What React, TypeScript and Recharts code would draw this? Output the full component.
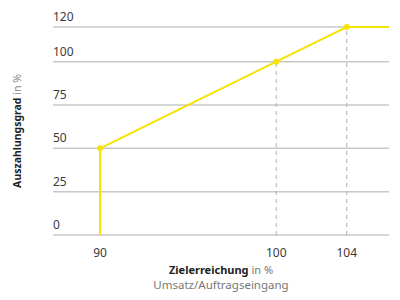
import { LineChart, Line, XAxis, YAxis, CartesianGrid, ReferenceLine, Label } from 'recharts';

// Zielerreichung (%) -> Auszahlungsgrad (%)
const zielerreichung = [90, 90, 100, 104, 106.4];
const auszahlung = [0, 50, 100, 120, 120];
const marker = [false, true, true, true, false];

const xTicks = [90, 100, 104];
const yTicks = [0, 25, 50, 75, 100, 120];
const dashedAt = [
  { x: 100, y: 100 },
  { x: 104, y: 120 },
];

const data = zielerreichung.map((x, i) => ({ x, y: auszahlung[i], marker: marker[i] }));

const FONT = '"Noto Sans", sans-serif';
const YELLOW = '#f6e300';

function YTick(props: any) {
  const { x, y, payload } = props;
  return (
    <text x={x} y={y - 6} textAnchor="start" fontSize={12} fill="#3a3a3a" fontFamily={FONT}>
      {payload.value}
    </text>
  );
}

function Dot(props: any) {
  const { cx, cy, payload, index } = props;
  if (!payload.marker) return <g key={index} />;
  return <circle key={index} cx={cx} cy={cy} r={3} fill={YELLOW} />;
}

function XTitle(props: any) {
  const { viewBox } = props;
  const cx = viewBox.x + viewBox.width / 2;
  return (
    <g fontFamily={FONT} fontSize={11} textAnchor="middle">
      <text x={cx} y={viewBox.y + 39}>
        <tspan fontWeight="bold" fill="#222">Zielerreichung</tspan>
        <tspan fill="#777"> in %</tspan>
      </text>
      <text x={cx} y={viewBox.y + 54} fill="#777" fontSize={11.5}>
        Umsatz/Auftragseingang
      </text>
    </g>
  );
}

function YTitle(props: any) {
  const { viewBox } = props;
  const cx = viewBox.x - 36;
  const cy = viewBox.y + viewBox.height / 2;
  return (
    <text
      x={cx}
      y={cy}
      transform={`rotate(-90 ${cx} ${cy})`}
      textAnchor="middle"
      dominantBaseline="central"
      fontFamily={FONT}
      fontSize={10.5}
    >
      <tspan fontWeight="bold" fill="#222">Auszahlungsgrad</tspan>
      <tspan fill="#888"> in %</tspan>
    </text>
  );
}

export default function App() {
  return (
    <div style={{ position: 'absolute', left: 0, top: 0, width: 400, height: 300, background: '#fff' }}>
      <LineChart width={400} height={300} data={data} margin={{ top: 27, right: 11, bottom: 0, left: 53 }}>
        <CartesianGrid vertical={false} stroke="#c8c8c8" strokeWidth={1.5} />
        <XAxis
          type="number"
          dataKey="x"
          domain={[87.33, 106.4]}
          ticks={xTicks}
          allowDataOverflow
          axisLine={false}
          tickLine={false}
          tickMargin={7}
          height={65}
          tick={{ fontSize: 12, fill: '#3a3a3a', fontFamily: FONT }}
        >
          <Label content={XTitle} />
        </XAxis>
        <YAxis
          type="number"
          domain={[0, 120]}
          ticks={yTicks}
          mirror
          width={53}
          axisLine={false}
          tickLine={false}
          tickSize={0}
          tickMargin={0}
          tick={YTick}
        >
          <Label content={YTitle} />
        </YAxis>
        {dashedAt.map((p) => (
          <ReferenceLine
            key={p.x}
            segment={[
              { x: p.x, y: 0 },
              { x: p.x, y: p.y },
            ]}
            stroke="#b0b0b0"
            strokeWidth={1}
            strokeDasharray="4 4"
          />
        ))}
        <Line
          type="linear"
          dataKey="y"
          stroke={YELLOW}
          strokeWidth={2}
          dot={Dot}
          activeDot={false}
          isAnimationActive={false}
        />
      </LineChart>
    </div>
  );
}
